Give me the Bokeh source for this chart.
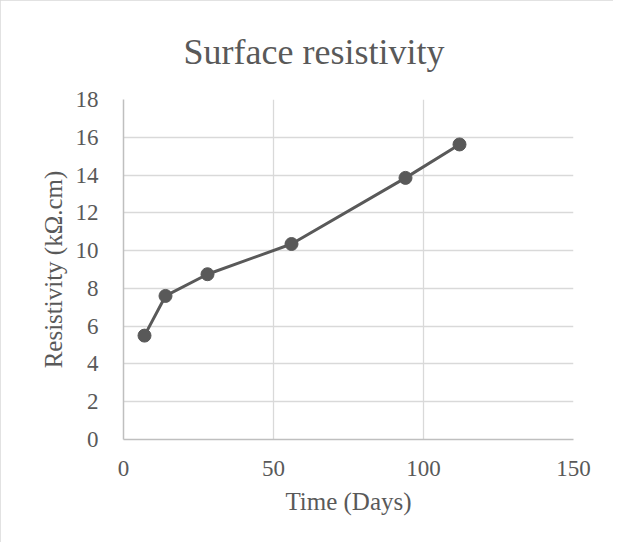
from bokeh.plotting import figure
from bokeh.models import FixedTicker, Range1d
from bokeh.embed import file_html
from bokeh.resources import INLINE

days = [7, 14, 28, 56, 94, 112]
resistivity = [5.5, 7.6, 8.75, 10.35, 13.85, 15.62]
x_ticks = [0, 50, 100, 150]
y_ticks = [0, 2, 4, 6, 8, 10, 12, 14, 16, 18]

FONT = "Liberation Serif"
TXT = "#595959"

p = figure(width=613, height=542, output_backend="svg", toolbar_location=None,
           x_range=Range1d(0, 150), y_range=Range1d(0, 18),
           min_border_left=123, min_border_right=40, min_border_top=99, min_border_bottom=103)
p.styles = {"outline": "2px solid #d9d9d9", "outline-offset": "-2px"}

p.title.text = "Surface resistivity"
p.title.align = "left"
p.title.offset = 60
p.title.text_font = FONT
p.title.text_font_size = "36px"
p.title.text_font_style = "normal"
p.title.text_color = TXT
p.title.text_line_height = 1.0
p.title.standoff = 56

p.outline_line_color = None
p.background_fill_color = "white"
p.border_fill_color = "white"

for ax in (p.xaxis[0], p.yaxis[0]):
    ax.major_tick_line_color = None
    ax.minor_tick_line_color = None
    ax.axis_line_color = "#bfbfbf"
    ax.axis_line_width = 1.5
    ax.major_label_text_font = FONT
    ax.major_label_text_font_size = "23px"
    ax.major_label_text_color = TXT
    ax.axis_label_text_font = FONT
    ax.axis_label_text_font_size = "25px"
    ax.axis_label_text_font_style = "normal"
    ax.axis_label_text_color = TXT

p.xaxis.ticker = FixedTicker(ticks=x_ticks)
p.yaxis.ticker = FixedTicker(ticks=y_ticks)
p.xaxis.axis_label = "Time (Days)"
p.yaxis.axis_label = "Resistivity (kΩ.cm)"
p.xaxis.major_label_standoff = 15
p.yaxis.major_label_standoff = 19
p.xaxis.axis_label_standoff = 9
p.yaxis.axis_label_standoff = 6

p.xgrid.ticker = FixedTicker(ticks=x_ticks)
p.ygrid.ticker = FixedTicker(ticks=y_ticks)
p.grid.grid_line_color = "#d9d9d9"
p.grid.grid_line_width = 1.3

p.line(days, resistivity, line_color="#595959", line_width=3)
p.scatter(days, resistivity, size=13, fill_color="#595959", line_color="#595959")

open("out.html", "w").write(file_html(p, INLINE))
